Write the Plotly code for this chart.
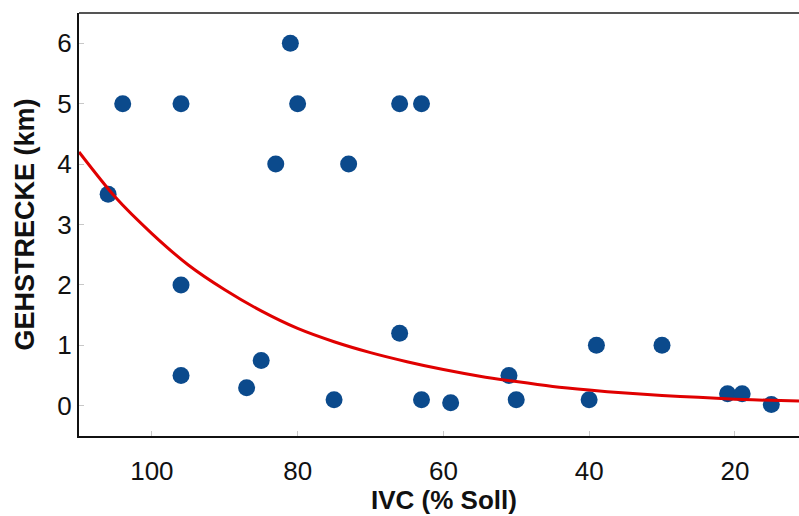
import plotly.graph_objects as go

# Scatter data: IVC (% Soll) vs GEHSTRECKE (km)
ivc = [104, 96, 80, 66, 63, 81, 83, 73, 106, 96, 96, 87, 85, 75, 66, 63, 59, 51, 50, 40, 39, 30, 21, 19, 15]
gehstrecke = [5, 5, 5, 5, 5, 6, 4, 4, 3.5, 2, 0.5, 0.3, 0.75, 0.1, 1.2, 0.1, 0.05, 0.5, 0.1, 0.1, 1, 1, 0.2, 0.2, 0.02]

# Fitted curve
fit_x = [110, 105, 100, 95, 90, 85, 80, 75, 70, 65, 60, 55, 50, 45, 40, 35, 30, 25, 20, 15, 11.2]
fit_y = [4.2, 3.45, 2.85, 2.33, 1.92, 1.57, 1.28, 1.06, 0.88, 0.73, 0.60, 0.49, 0.40, 0.32, 0.26, 0.21, 0.17, 0.14, 0.11, 0.09, 0.08]

x_ticks = [100, 80, 60, 40, 20]
y_ticks = [0, 1, 2, 3, 4, 5, 6]
x_title = "IVC (% Soll)"
y_title = "GEHSTRECKE (km)"

fig = go.Figure()
fig.add_trace(go.Scatter(
    x=ivc, y=gehstrecke, mode="markers",
    marker=dict(symbol="circle", size=17, color="#0b4a8c", line=dict(width=0)),
    showlegend=False, hoverinfo="x+y"))
fig.add_trace(go.Scatter(
    x=fit_x, y=fit_y, mode="lines",
    line=dict(color="#e00000", width=3, shape="spline", smoothing=0.8),
    showlegend=False))

font_family = "Arial, Liberation Sans, sans-serif"
fig.update_layout(
    width=799, height=516,
    margin=dict(l=79, r=0, t=13, b=80, autoexpand=False),
    paper_bgcolor="white", plot_bgcolor="white",
    font=dict(family=font_family, color="#111111", size=26),
    xaxis=dict(
        range=[110, 11.2], tickvals=x_ticks, ticktext=[str(v) for v in x_ticks],
        showgrid=False, zeroline=False, automargin=False,
        showline=True, linecolor="#111111", linewidth=2,
        ticks="inside", ticklen=5, tickcolor="#c8c8c8", tickwidth=1,
        ticklabelstandoff=11,
        tickfont=dict(size=26, family=font_family),
    ),
    yaxis=dict(
        range=[-0.5, 6.5], tickvals=y_ticks, ticktext=[str(v) for v in y_ticks],
        showgrid=False, zeroline=False, automargin=False,
        showline=True, linecolor="#111111", linewidth=2,
        ticks="inside", ticklen=5, tickcolor="#c8c8c8", tickwidth=1,
        tickfont=dict(size=26, family=font_family),
        title=dict(text="<b>" + y_title + "</b>", font=dict(size=27, family=font_family)),
    ),
    annotations=[dict(text="<b>" + x_title + "</b>", xref="paper", yref="paper",
                      x=0.507, y=0, xanchor="center", yanchor="middle", yshift=-64,
                      showarrow=False, font=dict(size=26, family=font_family, color="#111111"))],
    shapes=[dict(type="line", xref="paper", yref="paper", x0=0, x1=1, y0=1, y1=1,
                 line=dict(color="#555555", width=2))],
)

fig.write_html("out.html", config={"displayModeBar": False},
               post_script="document.body.style.margin='0';document.body.style.padding='0';")
